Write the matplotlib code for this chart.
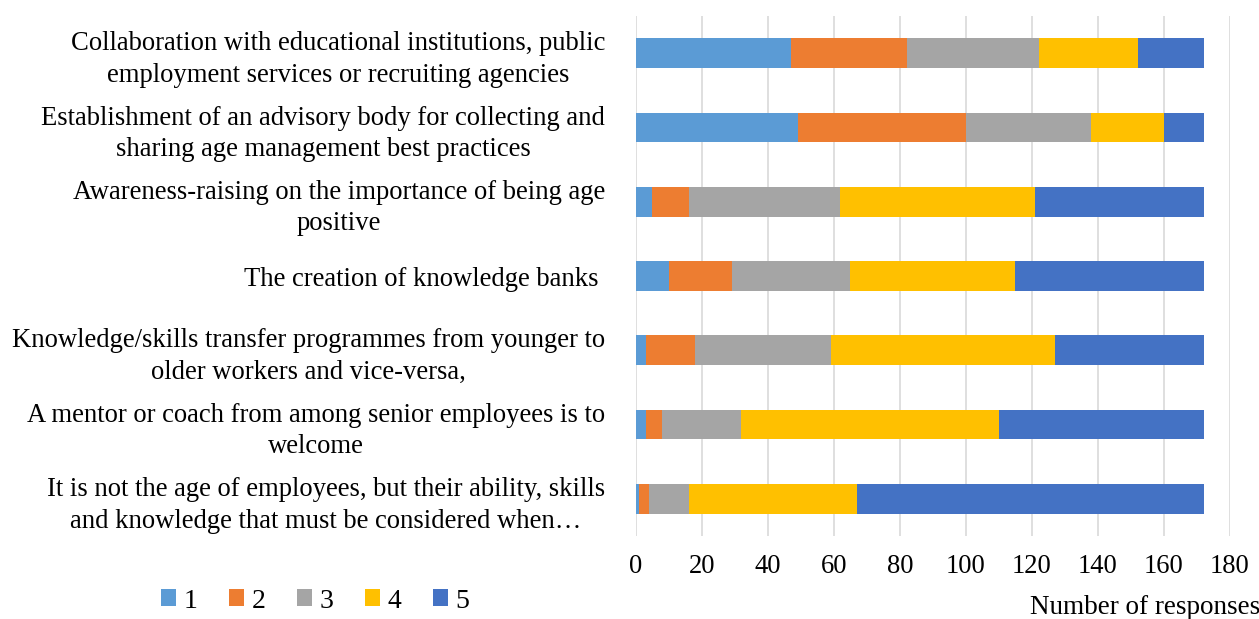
import numpy as np
import matplotlib.pyplot as plt

plt.rcParams['font.family'] = ['Liberation Serif', 'DejaVu Serif']

# Statements, listed top to bottom
statements = [
  "Collaboration with educational institutions, public\nemployment services or recruiting agencies",
  "Establishment of an advisory body for collecting and\nsharing age management best practices",
  "Awareness-raising on the importance of being age\npositive",
  "The creation of knowledge banks ",
  "Knowledge/skills transfer programmes from younger to\nolder workers and vice-versa,",
  "A mentor or coach from among senior employees is to\nwelcome",
  "It is not the age of employees, but their ability, skills\nand knowledge that must be considered when\u2026",
]

# Number of responses per rating (1..5)
score_1 = [47, 49, 5, 10, 3, 3, 1]
score_2 = [35, 51, 11, 19, 15, 5, 3]
score_3 = [40, 38, 46, 36, 41, 24, 12]
score_4 = [30, 22, 59, 50, 68, 78, 51]
score_5 = [20, 12, 51, 57, 45, 62, 105]

ratings = ["1", "2", "3", "4", "5"]
colors = ["#5B9BD5", "#ED7D31", "#A5A5A5", "#FFC000", "#4472C4"]

fig = plt.figure(figsize=(12.59, 6.19), dpi=100)
ax = fig.add_axes([0.505, 0.134, 0.472, 0.84])

y = np.arange(len(statements))
left = np.zeros(len(statements))
for label, vals, col in zip(ratings, [score_1, score_2, score_3, score_4, score_5], colors):
  vals = np.array(vals, dtype=float)
  ax.barh(y, vals, left=left, height=0.4, color=col, label=label, zorder=3)
  left += vals

ax.set_xlim(0, 180)
ax.set_ylim(len(statements) - 0.5, -0.5)
ax.set_xticks(np.arange(0, 181, 20))
ax.set_yticks(y)
ax.set_yticklabels(statements, multialignment='center', linespacing=1.35)
ax.tick_params(axis='both', length=0, labelsize=19.2)
ax.tick_params(axis='y', pad=22)
ax.tick_params(axis='x', pad=13)
ax.grid(axis='x', color='#d9d9d9', linewidth=1.2, zorder=0)
for s in ax.spines.values():
  s.set_visible(False)

fig.text(1030 / 1259, 1 - 607 / 619, "Number of responses", fontsize=19.5,
         ha='left', va='center')

fig.legend(loc='center left', bbox_to_anchor=(136 / 1259, 1 - 601 / 619),
           ncol=5, frameon=False, fontsize=20, handlelength=0.55,
           handleheight=0.55, handletextpad=0.25, columnspacing=1.15)

fig.savefig("out.png", dpi=100)
